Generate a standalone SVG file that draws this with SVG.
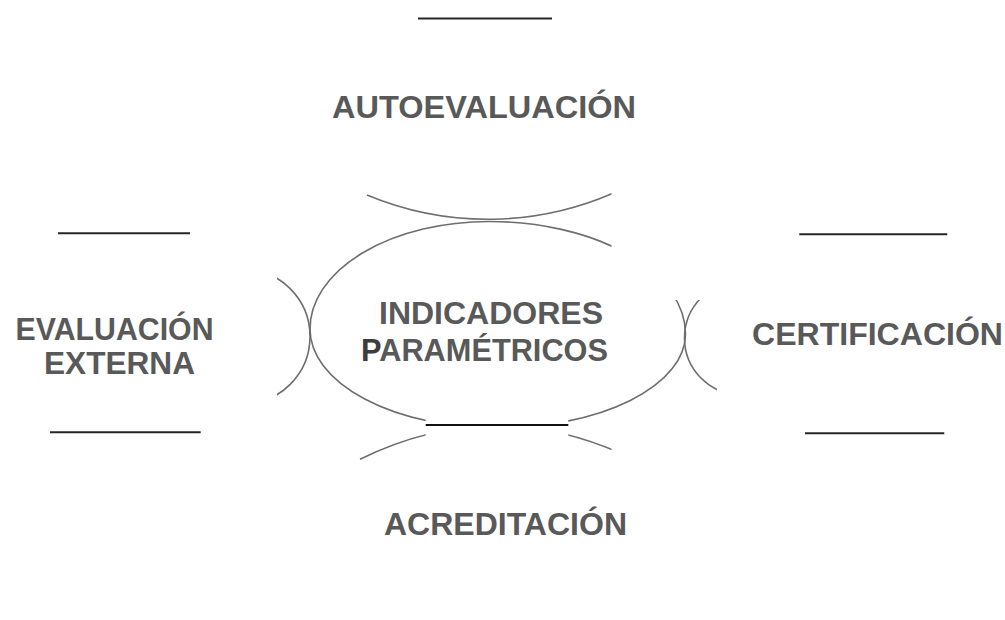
<svg xmlns="http://www.w3.org/2000/svg" width="1005" height="620" viewBox="0 0 1005 620">
  <style>
    .lbl { font-family: "Liberation Sans", Arial, sans-serif; font-weight: bold; font-size: 32px; fill: #595959; }
    .rule { stroke: #262626; stroke-width: 2; fill: none; }
    .arc { stroke: #6e6e6e; stroke-width: 1.6; fill: none; }
  </style>
  <defs>
    <clipPath id="vis">
      <rect x="277" y="0" width="334.5" height="418"/>
      <rect x="611.5" y="300" width="105.5" height="118"/>
      <rect x="277" y="418" width="148.7" height="202"/>
      <rect x="568.3" y="418" width="43.2" height="202"/>
    </clipPath>
  </defs>
  <rect width="1005" height="620" fill="#ffffff"/>

  <g id="connectors" clip-path="url(#vis)">
    <path class="arc" d="M310,329 A179,107.5 0 0 1 489,221.5 A196.5,112.5 0 0 1 685.5,334 A188.5,94 0 0 1 497,428 A187,99 0 0 1 310,329 Z"/>
    <path class="arc" d="M367,195 A313.4,313.4 0 0 0 620,190.1"/>
    <circle class="arc" cx="242.3" cy="336.5" r="67.7"/>
    <circle class="arc" cx="741.5" cy="338" r="57"/>
    <path class="arc" d="M360,459.3 Q490,395.6 620,453.1"/>
  </g>

  <g id="autoevaluacion">
    <line class="rule" x1="418" y1="18.5" x2="552" y2="18.5"/>
    <text class="lbl" x="332" y="118" textLength="304" lengthAdjust="spacingAndGlyphs">AUTOEVALUACIÓN</text>
  </g>

  <g id="indicadores">
    <text class="lbl" x="379" y="324" textLength="224" lengthAdjust="spacingAndGlyphs">INDICADORES</text>
    <text class="lbl" x="361" y="361" font-size="31" textLength="247" lengthAdjust="spacingAndGlyphs"><tspan fill="#3c3c3c">P</tspan>ARAMÉTRICOS</text>
    <line x1="425.7" y1="425" x2="568.3" y2="425" stroke="#111111" stroke-width="2.2"/>
  </g>

  <g id="evaluacion-externa">
    <line class="rule" x1="58" y1="233.3" x2="190" y2="233.3"/>
    <text class="lbl" font-size="30" x="15.5" y="339.5" textLength="198" lengthAdjust="spacingAndGlyphs">EVALUACIÓN</text>
    <text class="lbl" font-size="30" x="44" y="373.5" textLength="151" lengthAdjust="spacingAndGlyphs">EXTERNA</text>
    <line class="rule" x1="50" y1="432.3" x2="200.7" y2="432.3"/>
  </g>

  <g id="certificacion">
    <line class="rule" x1="799.3" y1="234.3" x2="947.3" y2="234.3"/>
    <text class="lbl" x="752" y="345" textLength="251" lengthAdjust="spacingAndGlyphs">CERTIFICACIÓN</text>
    <line class="rule" x1="805" y1="433.3" x2="944.3" y2="433.3"/>
  </g>

  <g id="acreditacion">
    <text class="lbl" x="384" y="535" textLength="243" lengthAdjust="spacingAndGlyphs">ACREDITACIÓN</text>
  </g>
</svg>
